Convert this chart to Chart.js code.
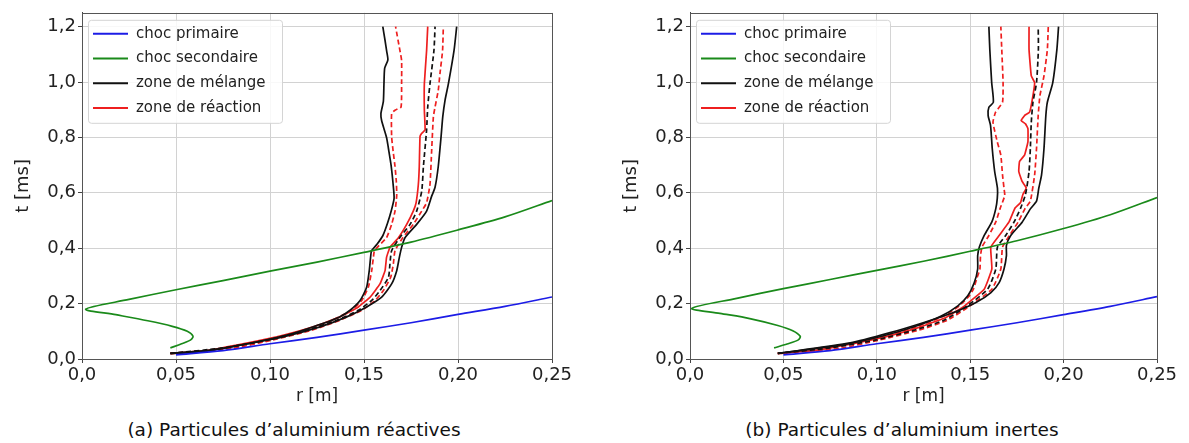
<!DOCTYPE html>
<html>
<head>
<meta charset="utf-8">
<title>Choc et zone de mélange</title>
<script src="https://cdn.jsdelivr.net/npm/chart.js@4.4.0/dist/chart.umd.min.js"></script>
<style>
    body { margin: 0; background: #fff; width: 1189px; height: 443px; position: relative; overflow: hidden; font-family: "DejaVu Sans", sans-serif; }
    canvas { position: absolute; top: 0; }
    #chartA { left: 0; }
    #chartB { left: 608px; }
    .caption { position: absolute; top: 419px; font-size: 18.5px; line-height: 22px; color: #111; white-space: nowrap; transform: translateX(-50%); }
</style>
</head>
<body>
<canvas id="chartA" width="600" height="410" style="width:600px;height:410px"></canvas>
<canvas id="chartB" width="581" height="410" style="width:581px;height:410px"></canvas>
<div class="caption" style="left:294px">(a) Particules d’aluminium réactives</div>
<div class="caption" style="left:902px">(b) Particules d’aluminium inertes</div>
<script>
// axes
const rTicks = [0, 0.05, 0.10, 0.15, 0.20, 0.25];
const rTickLabels = ['0,0', '0,05', '0,10', '0,15', '0,20', '0,25'];
const tTicks = [0, 0.2, 0.4, 0.6, 0.8, 1.0, 1.2];
const tTickLabels = ['0,0', '0,2', '0,4', '0,6', '0,8', '1,0', '1,2'];

const legendLabels = ['choc primaire', 'choc secondaire', 'zone de mélange', 'zone de réaction'];
const legendColors = ['#1c1ce6', '#1a8a1a', '#111111', '#ee1f1f'];

// (a) réactives -- points are [r (m), t (ms)]
const primaryA = [[0.050, 0.015], [0.075, 0.030], [0.100, 0.055], [0.125, 0.078], [0.150, 0.104], [0.175, 0.131], [0.200, 0.161], [0.225, 0.190], [0.250, 0.224]];
const secondaryA = [[0.047, 0.040], [0.053, 0.055], [0.058, 0.070], [0.059, 0.083], [0.056, 0.100], [0.048, 0.118], [0.035, 0.138], [0.018, 0.160], [0.002, 0.180],
    [0.025, 0.215], [0.050, 0.250], [0.075, 0.283], [0.100, 0.317], [0.125, 0.350], [0.150, 0.385], [0.175, 0.422], [0.200, 0.466], [0.225, 0.513], [0.250, 0.572]];
const mixInnerA = [[0.047, 0.020], [0.068, 0.032], [0.089, 0.056], [0.112, 0.092], [0.128, 0.128], [0.137, 0.152], [0.1426, 0.176], [0.1479, 0.211], [0.1514, 0.259],
    [0.1528, 0.319], [0.1535, 0.367], [0.154, 0.390], [0.157, 0.415], [0.160, 0.445], [0.1625, 0.490], [0.1645, 0.535], [0.166, 0.580], [0.1655, 0.630],
    [0.1644, 0.700], [0.163, 0.760], [0.162, 0.800], [0.1594, 0.860], [0.159, 0.886], [0.1603, 0.930], [0.1606, 0.990], [0.161, 1.050], [0.1627, 1.080],
    [0.1621, 1.110], [0.1612, 1.150], [0.160, 1.200]];
const mixMidA = [[0.047, 0.020], [0.075, 0.040], [0.0982, 0.068], [0.1195, 0.104], [0.1355, 0.140], [0.147, 0.176], [0.154, 0.211], [0.1585, 0.247], [0.163, 0.295],
    [0.1638, 0.343], [0.1647, 0.391], [0.169, 0.438], [0.1745, 0.486], [0.178, 0.534], [0.1807, 0.606], [0.1816, 0.695], [0.1833, 0.827], [0.1839, 0.910],
    [0.1851, 0.994], [0.1872, 1.114], [0.1878, 1.200]];
const mixOuterA = [[0.047, 0.020], [0.064, 0.026], [0.084, 0.050], [0.107, 0.080], [0.1266, 0.116], [0.1408, 0.152], [0.1514, 0.188], [0.1594, 0.223], [0.1647, 0.271],
    [0.1674, 0.319], [0.1688, 0.367], [0.170, 0.403], [0.1718, 0.438], [0.178, 0.486], [0.1833, 0.534], [0.186, 0.588], [0.1878, 0.620], [0.1895, 0.695],
    [0.191, 0.803], [0.1919, 0.875], [0.1931, 0.934], [0.1949, 0.994], [0.1979, 1.114], [0.1993, 1.200]];
const reacMidA = [[0.047, 0.020], [0.066, 0.030], [0.0823, 0.050], [0.1036, 0.080], [0.123, 0.116], [0.1372, 0.152], [0.147, 0.188], [0.1532, 0.223], [0.1585, 0.271],
    [0.1612, 0.319], [0.162, 0.367], [0.1638, 0.403], [0.1683, 0.438], [0.1727, 0.486], [0.1762, 0.534], [0.1777, 0.564], [0.1789, 0.630], [0.1794, 0.695],
    [0.1798, 0.803], [0.1807, 0.815], [0.1825, 0.827], [0.1821, 0.898], [0.1821, 0.994], [0.1833, 1.114], [0.1839, 1.200]];
const reacInnerA = [[0.047, 0.020], [0.070, 0.032], [0.091, 0.056], [0.1142, 0.092], [0.1293, 0.128], [0.1434, 0.176], [0.1488, 0.211], [0.1523, 0.259], [0.1541, 0.319],
    [0.155, 0.367], [0.1555, 0.390], [0.158, 0.410], [0.162, 0.438], [0.1647, 0.486], [0.1665, 0.534], [0.1674, 0.590], [0.1672, 0.640], [0.1665, 0.695],
    [0.1655, 0.750], [0.1647, 0.803], [0.1647, 0.886], [0.1665, 0.898], [0.1697, 0.910], [0.170, 0.994], [0.170, 1.078], [0.1691, 1.114], [0.1668, 1.200]];
const reacOuterA = [[0.047, 0.020], [0.080, 0.038], [0.1009, 0.068], [0.1222, 0.104], [0.1372, 0.140], [0.1488, 0.176], [0.1559, 0.211], [0.1603, 0.247], [0.1642, 0.295],
    [0.1656, 0.343], [0.1665, 0.391], [0.1706, 0.438], [0.1762, 0.486], [0.1807, 0.534], [0.1833, 0.564], [0.1851, 0.630], [0.186, 0.755], [0.1869, 0.875],
    [0.1878, 0.910], [0.1895, 0.970], [0.1904, 1.030], [0.1918, 1.114], [0.1922, 1.200]];

// (b) inertes
const primaryB = [[0.050, 0.015], [0.075, 0.030], [0.100, 0.055], [0.125, 0.078], [0.150, 0.104], [0.175, 0.131], [0.200, 0.160], [0.225, 0.190], [0.250, 0.225]];
const secondaryB = [[0.045, 0.040], [0.052, 0.054], [0.058, 0.069], [0.059, 0.082], [0.055, 0.102], [0.047, 0.121], [0.032, 0.146], [0.016, 0.165], [0.001, 0.183],
    [0.025, 0.219], [0.050, 0.254], [0.075, 0.287], [0.100, 0.320], [0.125, 0.353], [0.150, 0.389], [0.175, 0.427], [0.200, 0.471], [0.225, 0.521], [0.250, 0.583]];
const mixInnerB = [[0.047, 0.020], [0.0823, 0.052], [0.1027, 0.082], [0.1212, 0.119], [0.1345, 0.155], [0.1434, 0.192], [0.1487, 0.228], [0.1522, 0.276],
    [0.154, 0.325], [0.154, 0.373], [0.1549, 0.404], [0.1575, 0.446], [0.1616, 0.495], [0.1637, 0.543], [0.1645, 0.580], [0.1646, 0.616], [0.1631, 0.677],
    [0.1618, 0.760], [0.1609, 0.843], [0.1596, 0.879], [0.160, 0.909], [0.1624, 0.927], [0.1615, 0.998], [0.1605, 1.117], [0.160, 1.200]];
const mixMidB = [[0.047, 0.020], [0.075, 0.040], [0.099, 0.068], [0.120, 0.104], [0.136, 0.140], [0.148, 0.190], [0.1593, 0.252], [0.1637, 0.325], [0.1646, 0.404],
    [0.169, 0.446], [0.1735, 0.495], [0.177, 0.545], [0.1796, 0.594], [0.1815, 0.677], [0.1822, 0.760], [0.1827, 0.855], [0.1836, 0.927], [0.1855, 0.998],
    [0.1865, 1.117], [0.1864, 1.200]];
const mixOuterB = [[0.047, 0.020], [0.0858, 0.058], [0.1071, 0.095], [0.1248, 0.131], [0.1407, 0.167], [0.1531, 0.204], [0.1611, 0.240], [0.1655, 0.276],
    [0.1681, 0.325], [0.1694, 0.373], [0.1694, 0.410], [0.1717, 0.446], [0.1779, 0.495], [0.1823, 0.543], [0.1855, 0.570], [0.1867, 0.616], [0.1882, 0.665],
    [0.1895, 0.760], [0.1905, 0.879], [0.1913, 0.927], [0.1942, 0.998], [0.1964, 1.117], [0.1973, 1.200]];
const reacMidB = [[0.047, 0.020], [0.066, 0.030], [0.083, 0.050], [0.1045, 0.080], [0.1235, 0.116], [0.1375, 0.152], [0.147, 0.192], [0.1575, 0.252], [0.1616, 0.325],
    [0.161, 0.404], [0.1655, 0.446], [0.1708, 0.495], [0.174, 0.545], [0.1769, 0.564], [0.1782, 0.594], [0.180, 0.618], [0.1778, 0.641], [0.176, 0.677],
    [0.1764, 0.713], [0.1791, 0.736], [0.1809, 0.784], [0.1809, 0.832], [0.1796, 0.849], [0.1773, 0.861], [0.1791, 0.879], [0.1818, 0.891], [0.1833, 0.939],
    [0.1845, 0.998], [0.1827, 1.022], [0.1815, 1.117], [0.1815, 1.200]];
const reacInnerB = [[0.047, 0.020], [0.084, 0.052], [0.104, 0.082], [0.1225, 0.119], [0.1358, 0.155], [0.1442, 0.192], [0.1495, 0.228], [0.1517, 0.252], [0.1535, 0.290],
    [0.1552, 0.325], [0.1555, 0.370], [0.1563, 0.404], [0.160, 0.446], [0.1637, 0.495], [0.166, 0.543], [0.1685, 0.590], [0.1681, 0.616], [0.1673, 0.665],
    [0.1664, 0.736], [0.1645, 0.784], [0.1622, 0.855], [0.1636, 0.891], [0.1673, 0.927], [0.1676, 0.998], [0.1669, 1.117], [0.1664, 1.200]];
const reacOuterB = [[0.047, 0.020], [0.080, 0.038], [0.101, 0.068], [0.1225, 0.104], [0.1378, 0.140], [0.1495, 0.190], [0.1616, 0.252], [0.1664, 0.325], [0.1673, 0.404],
    [0.171, 0.446], [0.1757, 0.495], [0.1795, 0.545], [0.1822, 0.570], [0.1845, 0.665], [0.1855, 0.760], [0.1864, 0.879], [0.1873, 0.950], [0.1895, 1.022],
    [0.1913, 1.117], [0.1918, 1.200]];

const DASH = [5, 3];

// frame around the plot area (top + right edges are not axes)
const framePlugin = {
    id: 'frame',
    afterDatasetsDraw(chart) {
        const { ctx, chartArea: a } = chart;
        ctx.save();
        ctx.strokeStyle = '#555';
        ctx.lineWidth = 1;
        ctx.strokeRect(Math.round(a.left) + 0.5, Math.round(a.top) + 0.5, Math.round(a.right - a.left), Math.round(a.bottom - a.top));
        ctx.restore();
    }
};

// legend drawn inside the plot area, upper left
const insideLegendPlugin = {
    id: 'insideLegend',
    afterDraw(chart) {
        const { ctx, chartArea: a } = chart;
        const x = a.left + 6;
        const y = a.top + 7;
        const w = 194;
        const h = 103;
        ctx.save();
        ctx.fillStyle = 'rgba(255,255,255,0.85)';
        ctx.strokeStyle = '#d4d4d4';
        ctx.lineWidth = 1;
        ctx.beginPath();
        ctx.roundRect(x + 0.5, y + 0.5, w, h, 3);
        ctx.fill();
        ctx.stroke();
        ctx.font = '15px "DejaVu Sans"';
        ctx.textBaseline = 'middle';
        legendLabels.forEach((label, i) => {
            const ry = y + 14 + i * 24.7;
            ctx.strokeStyle = legendColors[i];
            ctx.lineWidth = 2;
            ctx.beginPath();
            ctx.moveTo(x + 5, ry);
            ctx.lineTo(x + 40, ry);
            ctx.stroke();
            ctx.fillStyle = '#222';
            ctx.fillText(label, x + 48, ry);
        });
        ctx.restore();
    }
};

function buildSeries(primary, secondary, mixInner, mixMid, mixOuter, reacMid, reacInner, reacOuter) {
    return [
        { label: legendLabels[0], points: primary, color: legendColors[0], dash: false, tension: 0.3 },
        { label: legendLabels[1], points: secondary, color: legendColors[1], dash: false, tension: 0.3 },
        { label: legendLabels[2], points: mixInner, color: legendColors[2], dash: false, tension: 0.2 },
        { label: legendLabels[2], points: mixOuter, color: legendColors[2], dash: false, tension: 0.2 },
        { label: legendLabels[2], points: mixMid, color: legendColors[2], dash: true, tension: 0.2 },
        { label: legendLabels[3], points: reacMid, color: legendColors[3], dash: false, tension: 0.1 },
        { label: legendLabels[3], points: reacInner, color: legendColors[3], dash: true, tension: 0.15 },
        { label: legendLabels[3], points: reacOuter, color: legendColors[3], dash: true, tension: 0.15 }
    ];
}

function createChart(canvasId, series, padRight, padTop) {
    const ctx = document.getElementById(canvasId).getContext('2d');
    return new Chart(ctx, {
        type: 'scatter',
        data: {
            datasets: series.map(s => ({
                label: s.label,
                data: s.points.map(p => ({ x: p[0], y: p[1] })),
                borderColor: s.color,
                backgroundColor: s.color,
                borderWidth: 1.7,
                borderDash: s.dash ? DASH : [],
                showLine: true,
                pointRadius: 0,
                tension: s.tension,
                fill: false
            }))
        },
        options: {
            responsive: false,
            animation: false,
            layout: { padding: { left: 0, right: padRight, top: padTop, bottom: 0 } },
            plugins: {
                legend: { display: false },
                tooltip: { enabled: false }
            },
            scales: {
                x: {
                    type: 'linear',
                    min: 0,
                    max: 0.25,
                    afterFit: scale => { scale.height = 51; },
                    afterBuildTicks: scale => { scale.ticks = rTicks.map(v => ({ value: v })); },
                    grid: { color: '#d2d2d2', tickColor: '#444', tickLength: 4 },
                    border: { color: '#444', width: 1 },
                    ticks: {
                        autoSkip: false,
                        maxRotation: 0,
                        padding: 2,
                        color: '#222',
                        font: { family: 'DejaVu Sans', size: 18 },
                        callback: (v) => rTickLabels[rTicks.findIndex(t => Math.abs(t - v) < 1e-6)]
                    },
                    title: {
                        display: true,
                        text: 'r [m]',
                        color: '#222',
                        font: { family: 'DejaVu Sans', size: 17 },
                        padding: { top: 0, bottom: 3 }
                    }
                },
                y: {
                    type: 'linear',
                    min: 0,
                    max: 1.25,
                    afterFit: scale => { scale.width = 82; },
                    afterBuildTicks: scale => { scale.ticks = tTicks.map(v => ({ value: v })); },
                    grid: { color: '#d2d2d2', tickColor: '#444', tickLength: 4 },
                    border: { color: '#444', width: 1 },
                    ticks: {
                        autoSkip: false,
                        padding: 2,
                        color: '#222',
                        font: { family: 'DejaVu Sans', size: 18 },
                        callback: (v) => tTickLabels[tTicks.findIndex(t => Math.abs(t - v) < 1e-6)]
                    },
                    title: {
                        display: true,
                        text: 't [ms]',
                        color: '#222',
                        font: { family: 'DejaVu Sans', size: 18 },
                        padding: { top: 13, bottom: 0 }
                    }
                }
            }
        },
        plugins: [framePlugin, insideLegendPlugin]
    });
}

createChart('chartA', buildSeries(primaryA, secondaryA, mixInnerA, mixMidA, mixOuterA, reacMidA, reacInnerA, reacOuterA), 48, 10);
createChart('chartB', buildSeries(primaryB, secondaryB, mixInnerB, mixMidB, mixOuterB, reacMidB, reacInnerB, reacOuterB), 32, 12);
</script>
</body>
</html>
